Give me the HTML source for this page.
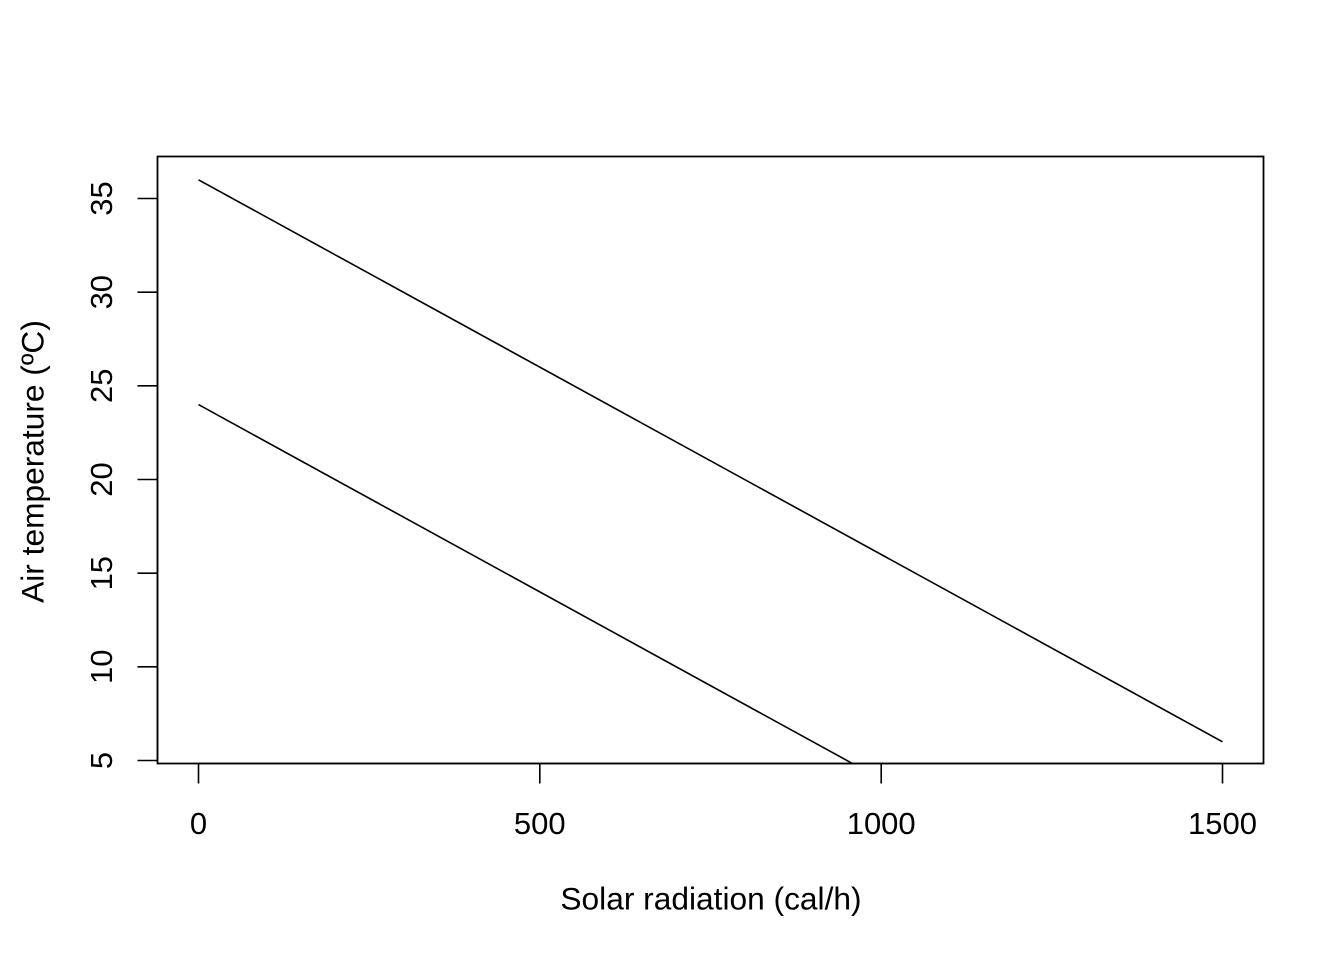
<!DOCTYPE html>
<html>
<head>
<meta charset="utf-8">
<style>
html,body{margin:0;padding:0;background:#fff;}
svg{display:block;}
text{font-family:"Liberation Sans",Arial,sans-serif;fill:#000;}
</style>
</head>
<body>
<svg width="1344" height="960" viewBox="0 0 1344 960" xmlns="http://www.w3.org/2000/svg">
<rect x="0" y="0" width="1344" height="960" fill="#fff"/>
<defs>
<clipPath id="pc"><rect x="157.5" y="156.5" width="1106" height="607"/></clipPath>
</defs>
<g clip-path="url(#pc)" stroke="#000" stroke-width="1.6" fill="none">
<line x1="198.5" y1="179.8" x2="1222.5" y2="741.8"/>
<line x1="198.5" y1="404.6" x2="855.2" y2="765"/>
</g>
<rect x="157.5" y="156.5" width="1106" height="607" fill="none" stroke="#000" stroke-width="1.8"/>
<g stroke="#000" stroke-width="1.6">
<line x1="198.5" y1="763.5" x2="1222.5" y2="763.5"/>
<line x1="198.5" y1="763.5" x2="198.5" y2="783.5"/>
<line x1="539.8" y1="763.5" x2="539.8" y2="783.5"/>
<line x1="881.2" y1="763.5" x2="881.2" y2="783.5"/>
<line x1="1222.5" y1="763.5" x2="1222.5" y2="783.5"/>
</g>
<g font-size="31" text-anchor="middle">
<text x="198.5" y="834">0</text>
<text x="539.8" y="834">500</text>
<text x="881.2" y="834">1000</text>
<text x="1222.5" y="834">1500</text>
</g>
<text x="711" y="909.5" font-size="31.7" text-anchor="middle">Solar radiation (cal/h)</text>
<g stroke="#000" stroke-width="1.6">
<line x1="157.5" y1="198.5" x2="157.5" y2="760.5"/>
<line x1="137.5" y1="760.5" x2="157.5" y2="760.5"/>
<line x1="137.5" y1="666.8" x2="157.5" y2="666.8"/>
<line x1="137.5" y1="573.2" x2="157.5" y2="573.2"/>
<line x1="137.5" y1="479.5" x2="157.5" y2="479.5"/>
<line x1="137.5" y1="385.8" x2="157.5" y2="385.8"/>
<line x1="137.5" y1="292.2" x2="157.5" y2="292.2"/>
<line x1="137.5" y1="198.5" x2="157.5" y2="198.5"/>
</g>
<g font-size="31" text-anchor="middle">
<text transform="translate(112,760.5) rotate(-90)">5</text>
<text transform="translate(112,666.8) rotate(-90)">10</text>
<text transform="translate(112,573.2) rotate(-90)">15</text>
<text transform="translate(112,479.5) rotate(-90)">20</text>
<text transform="translate(112,385.8) rotate(-90)">25</text>
<text transform="translate(112,292.2) rotate(-90)">30</text>
<text transform="translate(112,198.5) rotate(-90)">35</text>
</g>
<text transform="translate(43.5,461.5) rotate(-90)" font-size="31.7" text-anchor="middle">Air temperature (ºC)</text>
</svg>
</body>
</html>
